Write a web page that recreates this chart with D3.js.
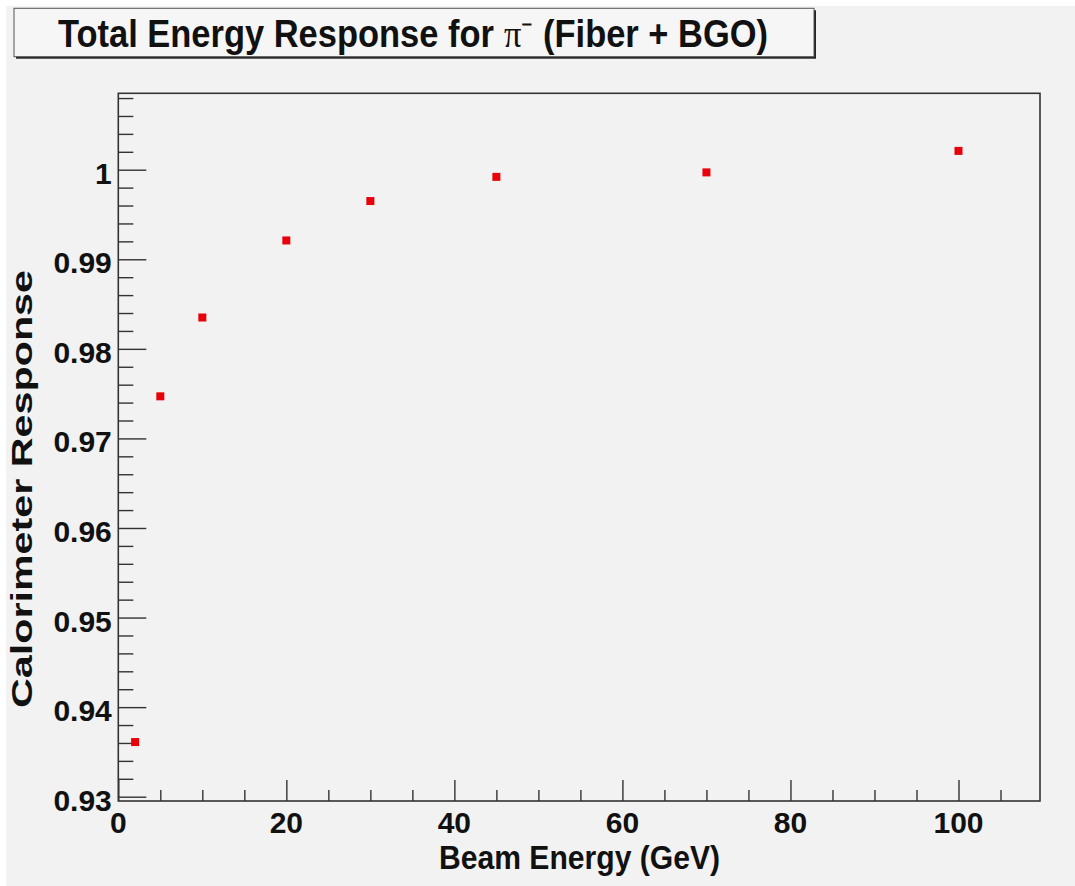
<!DOCTYPE html>
<html>
<head>
<meta charset="utf-8">
<script src="https://cdn.jsdelivr.net/npm/d3@7"></script>
<style>
  html, body { margin: 0; padding: 0; background: #ffffff; }
  svg { display: block; }
</style>
</head>
<body>
<svg id="chart" width="1075" height="886"></svg>
<script>
// ---- data ----
const beamEnergy = [2, 5, 10, 20, 30, 45, 70, 100];
const response   = [0.9361, 0.9747, 0.9835, 0.9921, 0.9965, 0.9992, 0.9997, 1.0021];
const xTickValues = [0, 20, 40, 60, 80, 100];
const yTickValues = [0.93, 0.94, 0.95, 0.96, 0.97, 0.98, 0.99, 1.00];
const yTickLabels = ["0.93", "0.94", "0.95", "0.96", "0.97", "0.98", "0.99", "1"];
const titleStart = "Total Energy Response for";
const titleParticle = "π⁻";
const titleEnd = "(Fiber + BGO)";
const xTitle = "Beam Energy (GeV)";
const yTitle = "Calorimeter Response";

const svg = d3.select("#chart");
const W = 1075, H = 886;
const bg = "#f2f2f2";

svg.append("rect").attr("x", 6).attr("y", 6).attr("width", W - 6).attr("height", H - 6).attr("fill", bg);

const frame = { left: 118.3, right: 1040, top: 93.3, bottom: 801 };
const x = d3.scaleLinear().domain([0, 109.7]).range([frame.left, frame.right]);
const y = d3.scaleLinear().domain([0.92952, 1.00853]).range([frame.bottom, frame.top]);

const axisColor = "#333";
const g = svg.append("g");

// frame
g.append("rect")
  .attr("x", frame.left).attr("y", frame.top)
  .attr("width", frame.right - frame.left).attr("height", frame.bottom - frame.top)
  .attr("fill", bg).attr("stroke", axisColor).attr("stroke-width", 1.6);

// x axis ticks
const xMinor = d3.range(0, 110, 5).filter(v => v <= x.domain()[1] && v % 20 !== 0);
const xAxisMajor = d3.axisBottom(x).tickValues(xTickValues).tickSize(-21).tickFormat("");
const xAxisMinor = d3.axisBottom(x).tickValues(xMinor).tickSize(-11).tickFormat("");
[xAxisMajor, xAxisMinor].forEach(ax => {
  const a = g.append("g").attr("transform", `translate(0,${frame.bottom})`).call(ax);
  a.select(".domain").remove();
  a.selectAll("line").attr("stroke", axisColor).attr("stroke-width", 1.4);
});
g.append("g").selectAll("text").data(xTickValues).join("text")
  .attr("x", d => x(d)).attr("y", frame.bottom + 32)
  .attr("text-anchor", "middle")
  .attr("font-family", "Liberation Sans, Arial, sans-serif")
  .attr("font-weight", "bold").attr("font-size", 30).attr("fill", "#111")
  .text(d => d);

// y axis ticks
const yMinor = d3.range(0, 40).map(i => +(0.93 + i * 0.002).toFixed(4))
  .filter(v => v <= y.domain()[1] && Math.round(v * 1000) % 10 !== 0);
const yAxisMajor = d3.axisLeft(y).tickValues(yTickValues).tickSize(-28).tickFormat("");
const yAxisMinor = d3.axisLeft(y).tickValues(yMinor).tickSize(-15).tickFormat("");
[yAxisMajor, yAxisMinor].forEach(ax => {
  const a = g.append("g").attr("transform", `translate(${frame.left},0)`).call(ax);
  a.select(".domain").remove();
  a.selectAll("line").attr("stroke", axisColor).attr("stroke-width", 1.4);
});
g.append("g").selectAll("text").data(yTickValues).join("text")
  .attr("x", frame.left - 6.5).attr("y", d => y(d) + 14)
  .attr("text-anchor", "end")
  .attr("font-family", "Liberation Sans, Arial, sans-serif")
  .attr("font-weight", "bold").attr("font-size", 30).attr("fill", "#111")
  .text((d, i) => yTickLabels[i]);

// axis titles
svg.append("text")
  .attr("x", 579.5).attr("y", 869.3)
  .attr("text-anchor", "middle")
  .attr("font-family", "Liberation Sans, Arial, sans-serif")
  .attr("font-weight", "bold").attr("font-size", 33).attr("fill", "#111")
  .attr("textLength", 281).attr("lengthAdjust", "spacingAndGlyphs")
  .text(xTitle);

svg.append("text")
  .attr("transform", "translate(32,489) rotate(-90)")
  .attr("text-anchor", "middle")
  .attr("font-family", "Liberation Sans, Arial, sans-serif")
  .attr("font-weight", "bold").attr("font-size", 30).attr("fill", "#111")
  .attr("textLength", 438).attr("lengthAdjust", "spacingAndGlyphs")
  .text(yTitle);

// points
g.append("g").selectAll("rect").data(beamEnergy).join("rect")
  .attr("x", (d) => x(d) - 4).attr("y", (d, i) => y(response[i]) - 4)
  .attr("width", 8).attr("height", 8)
  .attr("fill", "#e8000b");

// title box
const tb = { x: 14, y: 8.3, w: 800, h: 48.4 };
svg.append("rect").attr("x", tb.x + 2).attr("y", tb.y + 2).attr("width", tb.w).attr("height", tb.h).attr("fill", "#222");
svg.append("rect").attr("x", tb.x).attr("y", tb.y).attr("width", tb.w).attr("height", tb.h)
  .attr("fill", "#f6f6f6").attr("stroke", "#555").attr("stroke-width", 1);

// title as three adjacent pieces, horizontally condensed to the reference width
const titleG = svg.append("g");
const pieces = [
  { text: titleStart, family: "Liberation Sans, Arial, sans-serif", weight: "bold" },
  { text: titleParticle, family: "Liberation Serif, Times New Roman, serif", weight: "normal" },
  { text: titleEnd, family: "Liberation Sans, Arial, sans-serif", weight: "bold" }
];
const gap = 11;
let cursor = 0;
pieces.forEach((p, i) => {
  const el = titleG.append("text")
    .attr("x", cursor).attr("y", 0)
    .attr("font-family", p.family).attr("font-weight", p.weight)
    .attr("font-size", 38).attr("fill", "#111")
    .text(p.text);
  cursor += el.node().getComputedTextLength() + (i < pieces.length - 1 ? gap : 0);
});
const targetW = 710;
const sx = targetW / cursor;
titleG.attr("transform", `translate(58,46.5) scale(${sx},1)`);
</script>
</body>
</html>
